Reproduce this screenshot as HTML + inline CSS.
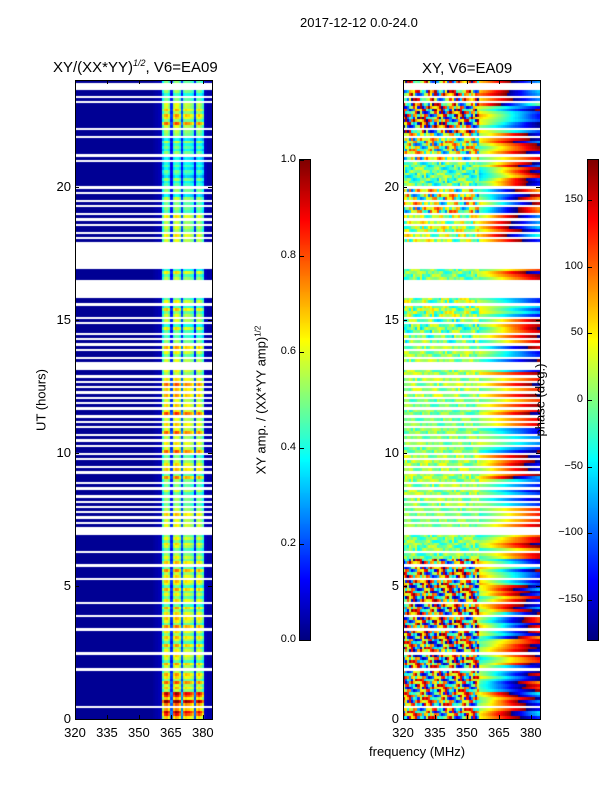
<!DOCTYPE html>
<html><head><meta charset="utf-8">
<style>
html,body{margin:0;padding:0;background:#fff;}
#root{position:relative;width:600px;height:800px;overflow:hidden;font-family:"Liberation Sans","DejaVu Sans",sans-serif;color:#000;}
.t{position:absolute;white-space:nowrap;font-size:13px;line-height:1;}
canvas{position:absolute;}
.frame{position:absolute;border:1px solid #000;box-sizing:border-box;}
.rot{position:absolute;transform:translate(-50%,-50%) rotate(-90deg);white-space:nowrap;font-size:13px;}
</style></head><body>
<div id="root">
<div class="t" style="left:300px;top:16px;">2017-12-12 0.0-24.0</div>
<div class="t" style="left:53px;top:59px;font-size:15px;">XY/(XX*YY)<sup style="font-size:9px;font-style:italic;">1/2</sup>, V6=EA09</div>
<div class="t" style="left:422px;top:61px;font-size:15px;">XY, V6=EA09</div>
<canvas id="c1" width="137" height="639" style="left:75px;top:80px;"></canvas>
<canvas id="c2" width="137" height="639" style="left:403px;top:80px;"></canvas>
<div class="frame" style="left:75px;top:80px;width:138px;height:640px;"></div>
<div class="frame" style="left:403px;top:80px;width:138px;height:640px;"></div>
<canvas id="cb1" width="10" height="480" style="left:300px;top:160px;"></canvas>
<canvas id="cb2" width="10" height="480" style="left:588px;top:160px;"></canvas>
<div class="frame" style="left:299px;top:159px;width:12px;height:482px;"></div>
<div class="frame" style="left:587px;top:159px;width:12px;height:482px;"></div>
<div class="rot" style="left:41px;top:400px;">UT (hours)</div>
<div class="rot" style="left:261px;top:400px;">XY amp. / (XX*YY amp)<sup style="font-size:8px;">1/2</sup></div>
<div class="rot" style="left:540px;top:400px;">phase (deg.)</div>
<div class="t" style="left:369px;top:745px;">frequency (MHz)</div>
<div id="ticks"></div>
</div>
<script>
// ---- data ----
const freqs = [];for(let f=320;f<=383;f++)freqs.push(f);
const xTicks=[320,335,350,365,380];
const yTicks=[0,5,10,15,20];
const ampTicks=[0.0,0.2,0.4,0.6,0.8,1.0];
const phaseTicks=[-150,-100,-50,0,50,100,150];
// per-channel amplitude profile (320..383 MHz)
const ampCol=[0.02,0.02,0.02,0.02,0.02,0.02,0.02,0.02,0.02,0.02,0.02,0.02,0.02,0.02,0.02,0.02,0.02,0.02,0.02,0.02,
0.02,0.02,0.02,0.02,0.02,0.02,0.02,0.02,0.02,0.02,0.02,0.02,0.02,0.02,0.02,0.02,0.02,0.03,0.04,0.05,0.06,
0.44,0.58,0.6,0.52,0.16,0.55,0.62,0.6,0.52,0.2,0.52,0.57,0.55,0.52,0.48,0.16,0.52,0.57,0.52,0.44,0.06,0.04,0.04];
// 0.1 h rows from 24h (top) down to 0h; '0' = no data
const rowMask=["1000110101","1111111101","1011111101","0111111111","0101101011","0101011010","1000000000","0111100000",
"0011011110","1011101010","1011010001","1010101010","1010110101","0110101011","0101101011","1010110101","0101010100",
"0111111011","1101111011","1111110111","1011110111","1111101111","1011111111","1111101111"].join("");
// amplitude gain per hour (index 0 = 0-1h)
const hourGain=[1.45,1.1,1.0,1.05,1.0,1.05,1.0,0.95,1.0,1.05,1.2,1.25,1.1,1.0,0.9,0.95,0.9,0.95,0.9,0.8,0.75,0.8,1.1,0.85];
const rowCycle=[1.0,0.8,1.2,0.9,1.05,0.85,1.1];
// phase: base offset per hour, slope across upper band, noise amplitude per hour
const phaseBase=[20,10,-20,30,10,40,-10,0,10,20,0,-10,20,10,-20,10,-10,20,30,20,-30,10,40,60];
const phaseSlope=[9,-8,7,-9,8,-7,6,5,-6,7,-5,6,5,-6,7,-5,6,7,8,-9,9,7,-7,8];
const noiseAmp=[150,160,170,170,170,160,40,25,35,35,30,30,35,35,50,55,40,60,60,110,50,110,170,150];
const noisePat=[0.1,-0.8,0.9,0.3,-0.2,1.0,-1.0,0.4,0.0,-0.5,0.8,-0.9,0.2,0.6,-0.3,0.95,-0.7,0.1,0.5,-1.0,0.7,-0.1,0.3,-0.6,
0.9,-0.4,0.0,0.8,-0.95,0.2,-0.2,0.6,1.0,-0.8,0.4,-0.3,0.1,0.7,-0.6,0.9,-0.1,-0.9,0.5,0.3,-0.7,0.0,0.85,-0.5,0.2,-0.2,
0.6,-1.0,0.4,0.1,-0.4,0.95,-0.6,0.3,0.7,-0.85,0.0,0.5,-0.3,0.8];
// ---- axis functions ----
const xScale=f=>(f-320)/64.3*137;
const tScale=h=>(24-h)/24*639;
function jet(v){v=Math.max(0,Math.min(1,v));
 const r=Math.max(0,Math.min(1,1.5-Math.abs(4*v-3))),g=Math.max(0,Math.min(1,1.5-Math.abs(4*v-2))),b=Math.max(0,Math.min(1,1.5-Math.abs(4*v-1)));
 return `rgb(${Math.round(r*255)},${Math.round(g*255)},${Math.round(b*255)})`;}
const c1=document.getElementById('c1').getContext('2d');
const c2=document.getElementById('c2').getContext('2d');
for(let i=0;i<rowMask.length;i++){
 if(rowMask[i]==='0')continue;
 const hTop=24-i*0.1, hBot=hTop-0.1, hour=Math.min(23,Math.floor(hBot+0.001));
 const y0=tScale(hTop), y1=tScale(hBot);
 for(let c=0;c<freqs.length;c++){
  const x0=xScale(freqs[c]), x1=xScale(freqs[c]+1);
  const a=ampCol[c]*(ampCol[c]>0.1?hourGain[hour]*rowCycle[i%rowCycle.length]:1);
  c1.fillStyle=jet(a);
  c1.fillRect(Math.floor(x0),Math.floor(y0),Math.ceil(x1-x0)+1,Math.ceil(y1-y0));
  let p;
  if(freqs[c]>=356){p=phaseBase[hour]+phaseSlope[hour]*(freqs[c]-356)*rowCycle[i%rowCycle.length]+noisePat[(i*3)%64]*40;}
  else{p=phaseBase[hour]*0.5+noiseAmp[hour]*noisePat[(c*5+i*7)%64];}
  p=((p+180)%360+360)%360-180;
  c2.fillStyle=jet((p+180)/360);
  c2.fillRect(Math.floor(x0),Math.floor(y0),Math.ceil(x1-x0)+1,Math.ceil(y1-y0));
 }
}
for(const id of ['cb1','cb2']){const g=document.getElementById(id).getContext('2d');
 for(let y=0;y<480;y++){g.fillStyle=jet(1-y/479);g.fillRect(0,y,10,1);}}
// ---- ticks ----
const T=document.getElementById('ticks');
function add(html,name){const d=document.createElement('div');d.innerHTML=html;const e=d.firstChild;
 
 
 T.appendChild(e);}
for(const ox of [75,403]){
 for(const f of xTicks){const x=ox+xScale(f);
  add(`<div class="t" style="left:${x-12}px;top:726px;width:24px;text-align:center;">${f}</div>`,'x-tick-label');
  add(`<div style="position:absolute;left:${x}px;top:80px;width:1px;height:4px;background:#000"></div>`,'x-tick-top');
  add(`<div style="position:absolute;left:${x}px;top:715px;width:1px;height:4px;background:#000"></div>`,'x-tick-bottom');}
 for(const h of yTicks){const y=80+tScale(h);
  add(`<div class="t" style="left:${ox-34}px;top:${y-7}px;width:30px;text-align:right;">${h}</div>`,'y-tick-label');
  add(`<div style="position:absolute;left:${ox}px;top:${y}px;width:4px;height:1px;background:#000"></div>`,'y-tick-left');
  add(`<div style="position:absolute;left:${ox+133}px;top:${y}px;width:4px;height:1px;background:#000"></div>`,'y-tick-right');}
}
for(const v of ampTicks){const y=640-v*480;
 add(`<div class="t" style="left:${266}px;top:${y-6}px;width:30px;text-align:right;font-size:11px;">${v.toFixed(1)}</div>`,'amp-colorbar-tick-label');
 add(`<div style="position:absolute;left:300px;top:${y}px;width:4px;height:1px;background:#000"></div>`,'amp-colorbar-tick');}
for(const v of phaseTicks){const y=400-v/180*240;
 add(`<div class="t" style="left:${547}px;top:${y-6}px;width:36px;text-align:right;font-size:11px;">${v<0?'\u2212'+(-v):v}</div>`,'phase-colorbar-tick-label');
 add(`<div style="position:absolute;left:588px;top:${y}px;width:4px;height:1px;background:#000"></div>`,'phase-colorbar-tick');}
</script>
</body></html>
